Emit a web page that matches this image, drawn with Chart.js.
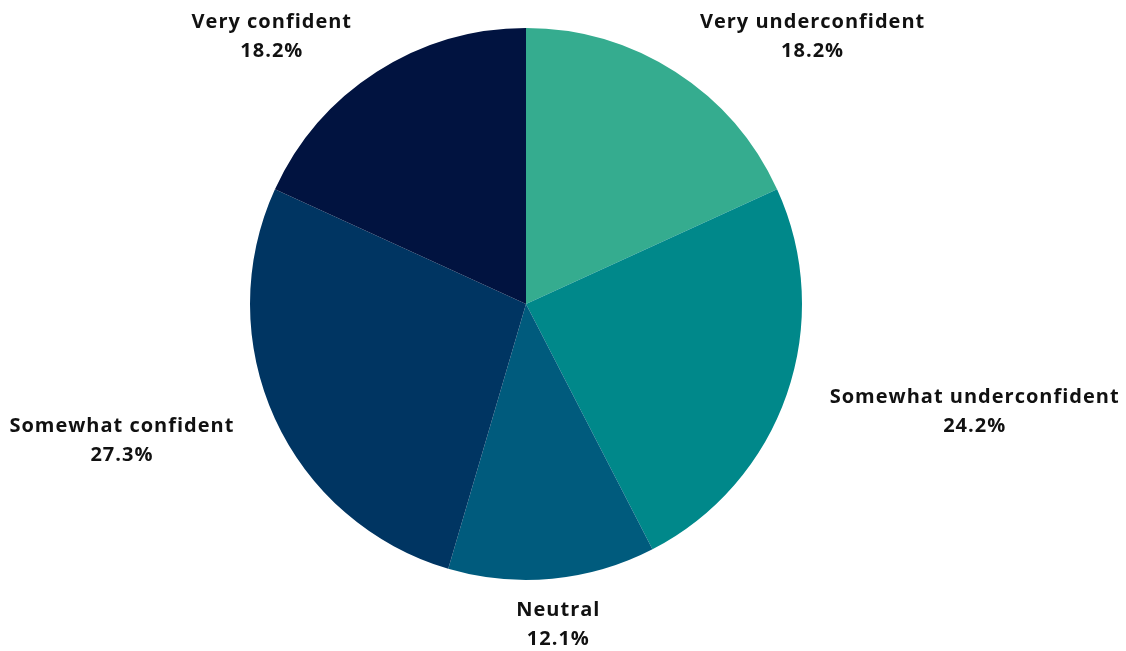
<!DOCTYPE html>
<html>
<head>
<meta charset="utf-8">
<script src="https://cdn.jsdelivr.net/npm/chart.js@4"></script>
<style>
html,body{margin:0;padding:0;background:#fff;}
#wrap{width:1126px;height:651px;position:relative;}
</style>
</head>
<body>
<div id="wrap"><canvas id="c" width="1126" height="651"></canvas></div>
<script>
const categories = ["Very underconfident", "Somewhat underconfident", "Neutral", "Somewhat confident", "Very confident"];
const counts = [6, 8, 4, 9, 6];
const percentLabels = ["18.2%", "24.2%", "12.1%", "27.3%", "18.2%"];
const colors = ["#35AC8F", "#00888A", "#005B7D", "#003562", "#011340"];

const outsideLabels = {
  id: 'outsideLabels',
  afterDatasetsDraw(chart) {
    const ctx = chart.ctx;
    const meta = chart.getDatasetMeta(0);
    ctx.save();
    ctx.font = 'bold 20px "Open Sans"';
    if ('letterSpacing' in ctx) ctx.letterSpacing = '1px';
    ctx.fillStyle = '#111111';
    ctx.textAlign = 'center';
    ctx.textBaseline = 'middle';
    const lh = 29;
    meta.data.forEach((arc, i) => {
      const mid = (arc.startAngle + arc.endAngle) / 2;
      const dx = Math.cos(mid), dy = Math.sin(mid);
      const r = arc.outerRadius + 22;
      const ax = arc.x + dx * r, ay = arc.y + dy * r;
      const lines = [categories[i], percentLabels[i]];
      const w = Math.max(...lines.map(t => ctx.measureText(t).width));
      const h = lh * 2;
      let cx;
      if (Math.abs(dx) > 0.3) {
        const g = 28 - 18 * Math.abs(dy);
        cx = ax + Math.sign(dx) * (w / 2 + g);
      } else {
        cx = ax + dx * w / 2;
      }
      let cy = ay + dy * h / 2;
      cy = Math.max(h / 2 + 7, Math.min(chart.height - h / 2 + 2, cy)) + 1;
      ctx.fillText(lines[0], cx, cy - lh / 2);
      ctx.fillText(lines[1], cx, cy + lh / 2);
    });
    ctx.restore();
  }
};

new Chart(document.getElementById('c'), {
  type: 'pie',
  data: {
    labels: categories,
    datasets: [{
      data: counts,
      backgroundColor: colors,
      borderWidth: 0
    }]
  },
  options: {
    responsive: false,
    animation: false,
    layout: { padding: { top: 28, bottom: 71, left: 0, right: 74 } },
    plugins: {
      legend: { display: false },
      tooltip: { enabled: false }
    }
  },
  plugins: [outsideLabels]
});
</script>
</body>
</html>
